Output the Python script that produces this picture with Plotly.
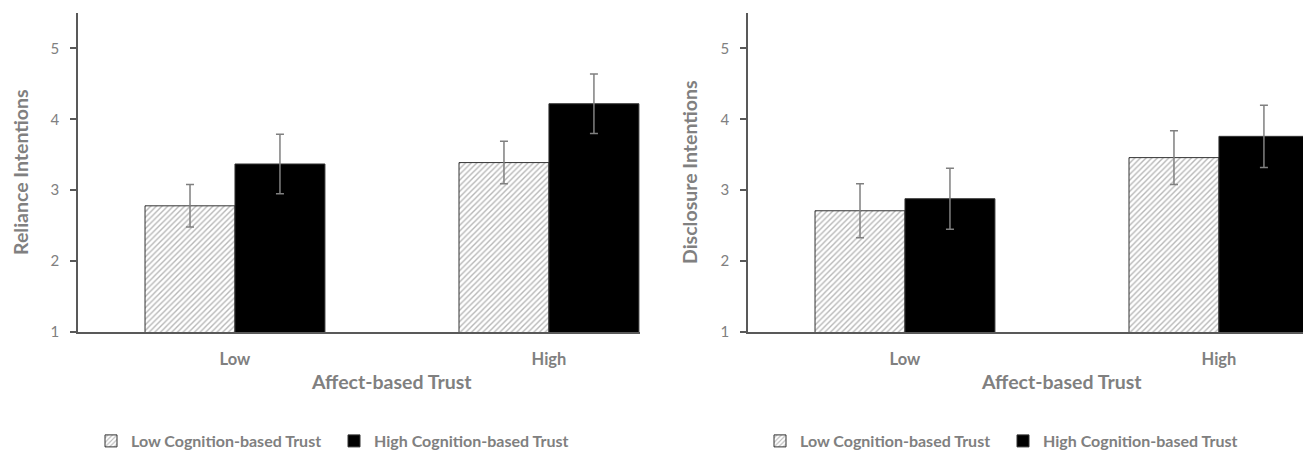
import plotly.graph_objects as go

categories = ["Low", "High"]
series_names = ["Low Cognition-based Trust", "High Cognition-based Trust"]

# Left panel: Reliance Intentions
rel_low_cog = [2.78, 3.39]
rel_high_cog = [3.37, 4.22]
rel_low_cog_err = [0.30, 0.30]
rel_high_cog_err = [0.42, 0.42]

# Right panel: Disclosure Intentions
dis_low_cog = [2.71, 3.46]
dis_high_cog = [2.88, 3.76]
dis_low_cog_err = [0.38, 0.38]
dis_high_cog_err = [0.43, 0.44]

y_ticks = [1, 2, 3, 4, 5]

# page body has an 8px margin, so the figure is laid out 8px up/left of target pixels
OFF = 8
W, H = 1311 - OFF, 453 - OFF
T, B = 13 - OFF, 453 - 332      # plot area: top / bottom margins
PH = H - T - B                  # plot height in px
FONT = "Lato"
AXIS_COL = "#595959"
TXT_COL = "#808080"
ERR_COL = "#808080"


def px_x(x):
    return (x - OFF) / W


def px_y(y):
    return (H - B - (y - OFF)) / PH


fig = go.Figure()


def add_panel(xa, ya, low_vals, low_err, high_vals, high_err, legend):
    fig.add_trace(go.Bar(
        x=categories, y=low_vals, name=series_names[0], xaxis=xa, yaxis=ya,
        legend=legend,
        marker=dict(color="white", line=dict(color="#333333", width=1),
                    pattern=dict(shape="/", fgcolor="#707070", bgcolor="white",
                                 size=4, solidity=0.35)),
        error_y=dict(type="data", array=low_err, visible=True, color=ERR_COL,
                     thickness=1.5, width=4),
    ))
    fig.add_trace(go.Bar(
        x=categories, y=high_vals, name=series_names[1], xaxis=xa, yaxis=ya,
        legend=legend,
        marker=dict(color="black", line=dict(color="#333333", width=1)),
        error_y=dict(type="data", array=high_err, visible=True, color=ERR_COL,
                     thickness=1.5, width=4),
    ))


add_panel("x", "y", rel_low_cog, rel_low_cog_err, rel_high_cog, rel_high_cog_err, "legend")
add_panel("x2", "y2", dis_low_cog, dis_low_cog_err, dis_high_cog, dis_high_cog_err, "legend2")

xcommon = dict(type="category", range=[-0.5, 1.29], showline=True, linecolor=AXIS_COL,
               linewidth=1.5, ticks="", showgrid=False, zeroline=False,
               tickfont=dict(family=FONT, size=16.5, color=TXT_COL, weight="bold"),
               ticklabelstandoff=11, fixedrange=True, automargin=False)
ycommon = dict(range=[1, 5.5], tickvals=y_ticks, showline=True, linecolor=AXIS_COL,
               linewidth=1.5, ticks="outside", ticklen=6, tickcolor=AXIS_COL,
               tickwidth=1.5, showgrid=False, zeroline=False,
               tickfont=dict(family=FONT, size=15, color=TXT_COL),
               ticklabelstandoff=8, fixedrange=True, automargin=False)

legend_common = dict(orientation="h", xanchor="left", y=px_y(441), yanchor="middle",
                     font=dict(family=FONT, size=16, color=TXT_COL, weight="bold"),
                     entrywidth=198, entrywidthmode="pixels", bgcolor="rgba(0,0,0,0)",
                     traceorder="normal")

fig.update_layout(
    width=W, height=H,
    margin=dict(l=0, r=0, t=T, b=B, autoexpand=False),
    paper_bgcolor="white", plot_bgcolor="white",
    barmode="group", bargap=0.427, bargroupgap=0,
    xaxis=dict(domain=[px_x(78), px_x(640)], anchor="y", **xcommon),
    yaxis=dict(domain=[0, 1], anchor="x", **ycommon),
    xaxis2=dict(domain=[px_x(748), min(1.0, px_x(1310))], anchor="y2", **xcommon),
    yaxis2=dict(domain=[0, 1], anchor="x2", **ycommon),
    legend=dict(x=px_x(91), **legend_common),
    legend2=dict(x=px_x(760), **legend_common),
    showlegend=True,
)

title_font = dict(family=FONT, size=19.5, color=TXT_COL, weight="bold")
fig.add_annotation(text="Reliance Intentions", x=px_x(20), y=px_y(172), xref="paper", yref="paper",
                   textangle=-90, showarrow=False, font=title_font, xanchor="center", yanchor="middle")
fig.add_annotation(text="Disclosure Intentions", x=px_x(689), y=px_y(172), xref="paper", yref="paper",
                   textangle=-90, showarrow=False, font=title_font, xanchor="center", yanchor="middle")
fig.add_annotation(text="Affect-based Trust", x=px_x(391), y=px_y(381), xref="paper", yref="paper",
                   showarrow=False, font=title_font, xanchor="center", yanchor="middle")
fig.add_annotation(text="Affect-based Trust", x=px_x(1061), y=px_y(381), xref="paper", yref="paper",
                   showarrow=False, font=title_font, xanchor="center", yanchor="middle")

fig.write_html("out.html")
